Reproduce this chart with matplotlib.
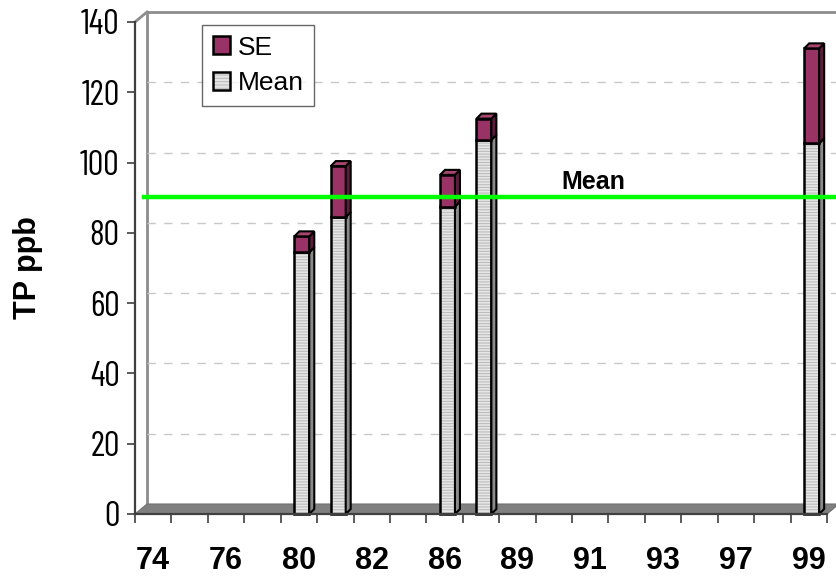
import matplotlib
matplotlib.use("Agg")
import matplotlib.pyplot as plt
from matplotlib.patches import Polygon, Rectangle, Patch
from matplotlib.legend_handler import HandlerTuple

# one slot per sampling year, only every other one gets a label
years = ['74', '', '76', '', '80', '', '82', '', '86', '', '89', '', '91', '', '93', '', '97', '', '99']
bar_slots = [4, 5, 8, 9, 18]
mean_tp = [74.5, 84.5, 87.5, 106.5, 105.5]
se_tp = [4.5, 14.5, 9.0, 6.0, 27.0]
overall_mean = 90.2

plt.rcParams['hatch.linewidth'] = 0.8

fig = plt.figure(figsize=(8.37, 5.77), dpi=100)
ax = fig.add_axes([135 / 837, 63 / 577, 692 / 837, 492 / 577])
n = len(years)
ax.set_xlim(-0.5, n - 0.5)
ax.set_ylim(0, 140)

# pixel -> data conversion for the fake depth
px_x = n / 692.0
px_y = 140 / 492.0
wall_dx, wall_dy = 12 * px_x, 10 * px_y
bar_dx, bar_dy = 5 * px_x, 5 * px_y

# back wall, floor and gridlines
wall = dict(color='#8c8c8c', lw=2, clip_on=False, zorder=1)
ax.plot([-0.5 + wall_dx, n - 0.5 + wall_dx + 1], [140 + wall_dy] * 2, **wall)
ax.plot([-0.5 + wall_dx] * 2, [wall_dy, 140 + wall_dy], **wall)
ax.plot([-0.5, -0.5 + wall_dx], [140, 140 + wall_dy], **wall)
for v in range(20, 140, 20):
    ax.plot([-0.5 + wall_dx, n - 0.5 + wall_dx], [v + wall_dy] * 2, color='#c8c8c8',
            lw=1, dashes=(6, 6), clip_on=False, zorder=1)
floor = Polygon([(-0.5, 0), (-0.5 + wall_dx, wall_dy), (n - 0.5 + wall_dx, wall_dy), (n - 0.5, 0)],
                closed=True, facecolor='#808080', edgecolor='#707070', lw=0.8, clip_on=False, zorder=2)
ax.add_patch(floor)


def box3d(x0, w, y0, y1, front, side, top, hatch=None):
    x1 = x0 + w
    if hatch:
        ax.add_patch(Rectangle((x0, y0), w, y1 - y0, facecolor=front, edgecolor='#bdbdbd',
                               lw=0, hatch=hatch, zorder=4, clip_on=False))
        ax.add_patch(Rectangle((x0, y0), w, y1 - y0, fill=False, edgecolor='black',
                               lw=1.8, zorder=5, clip_on=False))
    else:
        ax.add_patch(Rectangle((x0, y0), w, y1 - y0, facecolor=front, edgecolor='black',
                               lw=1.8, zorder=5, clip_on=False))
    ax.add_patch(Polygon([(x1, y0), (x1 + bar_dx, y0 + bar_dy), (x1 + bar_dx, y1 + bar_dy), (x1, y1)],
                         closed=True, facecolor=side, edgecolor='black', lw=1.5, zorder=5, clip_on=False))
    ax.add_patch(Polygon([(x0, y1), (x0 + bar_dx, y1 + bar_dy), (x1 + bar_dx, y1 + bar_dy), (x1, y1)],
                         closed=True, facecolor=top, edgecolor='black', lw=1.5, zorder=5, clip_on=False))


bw = 0.41
for slot, m, se in zip(bar_slots, mean_tp, se_tp):
    x0 = slot + 0.08 - bw / 2
    box3d(x0, bw, 0, m, '#e6e6e6', '#8a8a8a', '#d0d0d0', hatch='------')
    box3d(x0, bw, m, m + se, '#993366', '#5a1e3c', '#a8466f')

# overall mean line
ax.plot([-0.5 + wall_dx * 0.75, n + 0.5], [overall_mean] * 2, color='#00ff00', lw=3.2,
        clip_on=False, zorder=6)
ax.text(12.08, overall_mean + 4.3, 'Mean', ha='center', va='center', fontsize=18,
        fontweight='bold', family='Liberation Sans', zorder=7)

# axes
for s in ['top', 'right']:
    ax.spines[s].set_visible(False)
for s in ['left', 'bottom']:
    ax.spines[s].set_color('#404040')
    ax.spines[s].set_linewidth(1.6)
    ax.spines[s].set_zorder(8)

ax.set_yticks(range(0, 141, 20))
ax.set_yticklabels([str(v) for v in range(0, 141, 20)], fontsize=25, fontweight='normal',
                   family=['Barlow Condensed', 'DejaVu Sans'])
ax.tick_params(axis='y', length=6, width=1.2, color='#404040', pad=5)

ax.set_xticks([i - 0.5 for i in range(n + 1)])
ax.set_xticklabels([])
ax.tick_params(axis='x', which='major', length=6.5, width=1.2, color='#404040')
ax.set_xticks(range(n), minor=True)
ax.set_xticklabels(years, minor=True, fontsize=22, fontweight='bold', family='Liberation Sans')
ax.tick_params(axis='x', which='minor', length=0, pad=23)

fig.text(28 / 837, 1 - 268 / 577, 'TP ppb', rotation=90, ha='center', va='center',
         fontsize=22, fontweight='bold', family='Liberation Sans')

se_handle = Patch(facecolor='#993366', edgecolor='black', lw=1.8)
mean_handle = (Patch(facecolor='#e6e6e6', edgecolor='#bdbdbd', lw=0, hatch='-----'),
               Patch(fill=False, edgecolor='black', lw=1.8))
leg = fig.legend([se_handle, mean_handle], ['SE', 'Mean'], loc='upper left',
                 bbox_to_anchor=(202 / 837, 1 - 25 / 577),
                 prop={'family': 'Liberation Sans', 'size': 19}, frameon=True,
                 fancybox=False, handlelength=0.65, handleheight=0.65, handletextpad=0.3,
                 labelspacing=0.45, borderpad=0.4, borderaxespad=0,
                 handler_map={tuple: HandlerTuple(ndivide=1, pad=0)})
leg.get_frame().set_edgecolor('#404040')
leg.get_frame().set_linewidth(1)

fig.savefig('out.png', dpi=100)
